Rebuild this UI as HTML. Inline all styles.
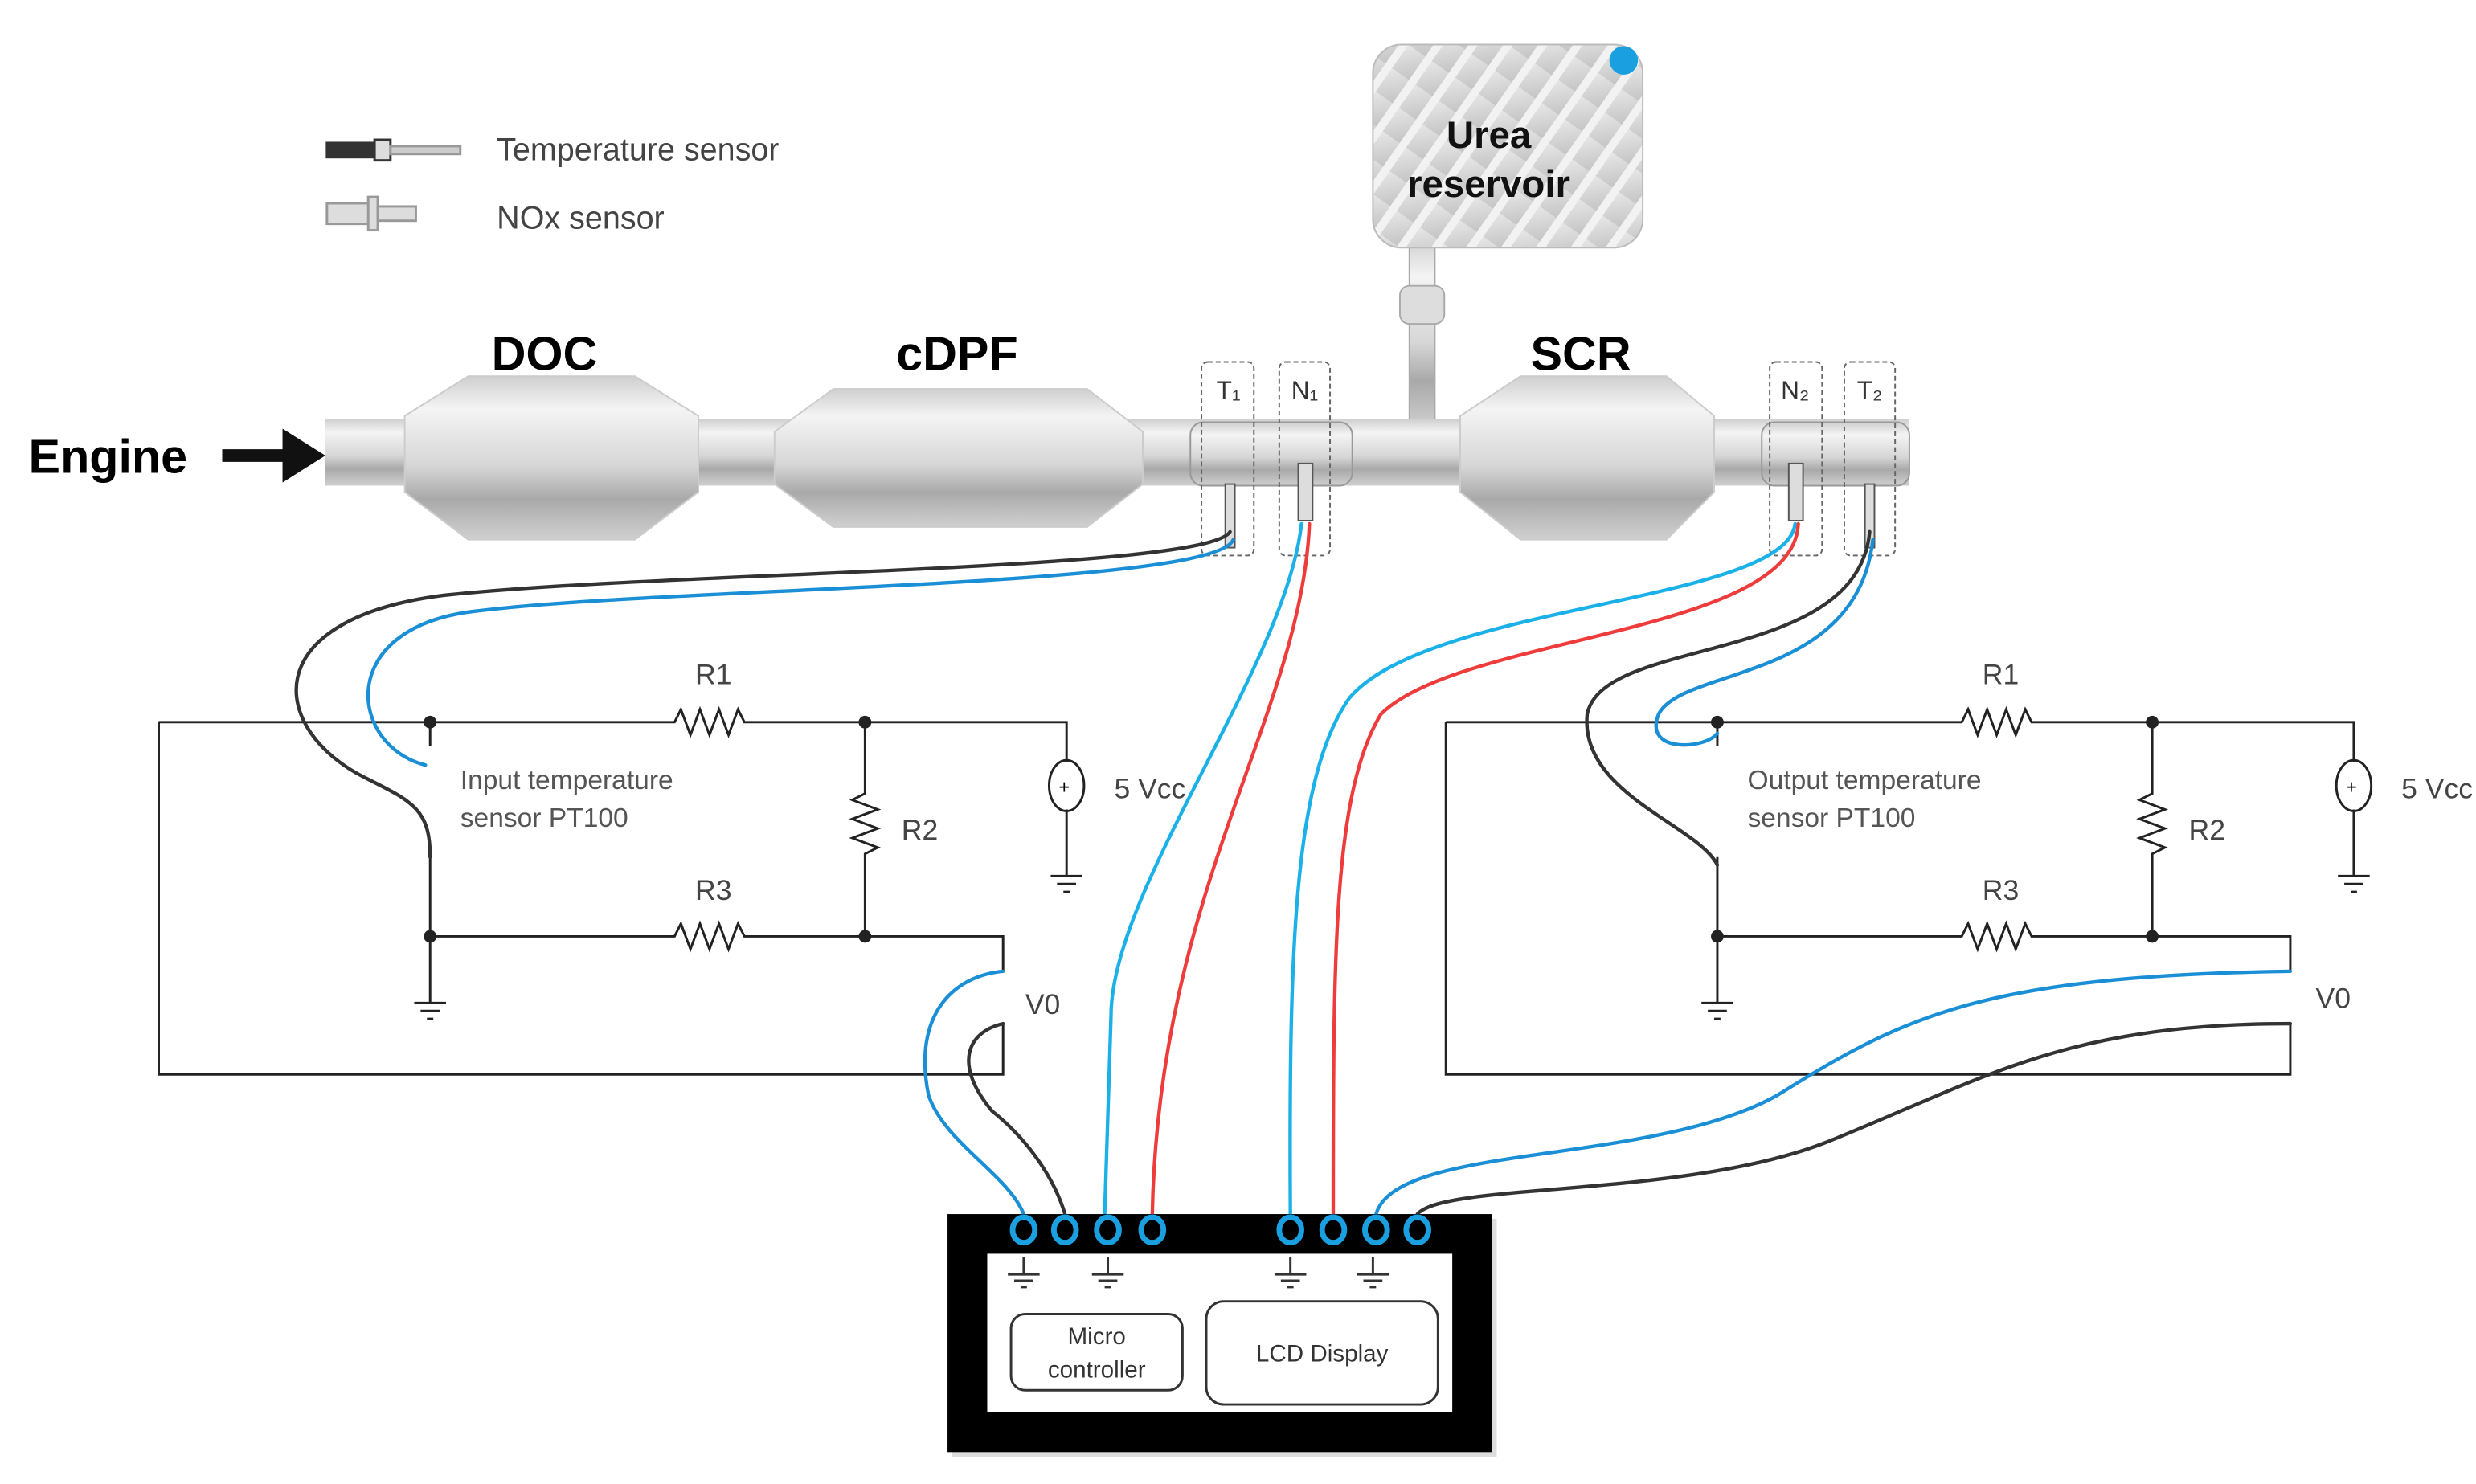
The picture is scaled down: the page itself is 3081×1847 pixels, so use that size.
<!DOCTYPE html>
<html><head><meta charset="utf-8"><style>html,body{margin:0;padding:0;background:#fff}svg{display:block}</style></head>
<body>
<svg width="3081" height="1847" viewBox="0 0 1560 935" xmlns="http://www.w3.org/2000/svg" font-family="Liberation Sans, sans-serif">
<defs>
<linearGradient id="m" x1="0" y1="0" x2="0" y2="1">
<stop offset="0" stop-color="#cfcfcf"/><stop offset="0.2" stop-color="#f4f4f4"/><stop offset="0.55" stop-color="#d6d6d6"/><stop offset="0.75" stop-color="#a9a9a9"/><stop offset="1" stop-color="#d0d0d0"/></linearGradient>
<linearGradient id="r" x1="0" y1="0" x2="1" y2="1"><stop offset="0" stop-color="#ececec"/><stop offset="1" stop-color="#c4c4c4"/></linearGradient>
<pattern id="h" width="18" height="18" patternUnits="userSpaceOnUse" patternTransform="rotate(35)"><rect width="18" height="18" fill="url(#r)"/><rect width="5" height="18" fill="#f2f2f2"/></pattern>
</defs>
<g fill="none" stroke="#333" stroke-width="1.5">
<rect x="206" y="90" width="30" height="9" fill="#333"/><rect x="236" y="88" width="10" height="13" fill="#ddd"/><rect x="246" y="92" width="44" height="5" fill="#ccc" stroke="#999"/>
<rect x="206" y="128" width="28" height="13" fill="#ddd" stroke="#999"/><rect x="232" y="124" width="6" height="21" fill="#ddd" stroke="#999"/><rect x="238" y="130" width="24" height="9" fill="#ddd" stroke="#999"/>
</g>
<text x="313" y="101" font-size="20" fill="#444">Temperature sensor</text>
<text x="313" y="144" font-size="20" fill="#444">NOx sensor</text>
<rect x="888" y="150" width="16" height="120" fill="url(#m)" stroke="#aaa"/>
<rect x="882" y="180" width="28" height="24" rx="6" fill="#ddd" stroke="#aaa"/>
<rect x="865" y="28" width="170" height="128" rx="18" fill="url(#h)" stroke="#bbb"/>
<circle cx="1023" cy="38" r="9" fill="#1aa0e0"/>
<text x="938" y="93" font-size="24" font-weight="bold" text-anchor="middle" fill="#111">Urea</text>
<text x="938" y="124" font-size="24" font-weight="bold" text-anchor="middle" fill="#111">reservoir</text>
<rect x="205" y="264" width="998" height="42" fill="url(#m)"/>
<path d="M255 262 L295 237 H400 L440 262 V310 L400 340 H295 L255 310Z" fill="url(#m)" stroke="#ccc"/>
<path d="M488 272 L525 245 H685 L720 272 V305 L685 332 H525 L488 305Z" fill="url(#m)" stroke="#ccc"/>
<path d="M920 262 L958 237 H1050 L1080 262 V310 L1050 340 H958 L920 310Z" fill="url(#m)" stroke="#ccc"/>
<rect x="750" y="266" width="102" height="40" rx="8" fill="url(#m)" stroke="#999"/>
<rect x="1110" y="266" width="93" height="40" rx="8" fill="url(#m)" stroke="#999"/>
<text x="343" y="233" font-size="30" font-weight="bold" text-anchor="middle">DOC</text>
<text x="603" y="233" font-size="30" font-weight="bold" text-anchor="middle">cDPF</text>
<text x="996" y="233" font-size="30" font-weight="bold" text-anchor="middle">SCR</text>
<text x="18" y="298" font-size="30" font-weight="bold">Engine</text>
<path d="M140 283 H178 V270 L205 287 L178 304 V291 H140Z" fill="#111"/>
<g fill="none" stroke="#666" stroke-dasharray="3,2" stroke-width="1">
<rect x="757" y="228" width="33" height="122" rx="4"/><rect x="806" y="228" width="32" height="122" rx="4"/>
<rect x="1115" y="228" width="33" height="122" rx="4"/><rect x="1162" y="228" width="32" height="122" rx="4"/></g>
<g font-size="16" fill="#333" text-anchor="middle"><text x="774" y="251">T₁</text><text x="822" y="251">N₁</text><text x="1131" y="251">N₂</text><text x="1178" y="251">T₂</text></g>
<g fill="#ddd" stroke="#555" stroke-width="1">
<rect x="772" y="305" width="6" height="40"/><rect x="818" y="292" width="9" height="36"/><rect x="1127" y="292" width="9" height="36"/><rect x="1175" y="305" width="6" height="40"/></g>
<g fill="none" stroke="#222" stroke-width="1.5">
<path d="M100 455 H425 l4 -8 6 16 6 -16 6 16 6 -16 6 16 6 -16 4 8 H672 V480"/>
<path d="M672 510 V552 M662 552 H682 M666 557 H678 M670 562 H674"/>
<ellipse cx="672" cy="495" rx="11" ry="16"/>
<path d="M545 455 V500 l-8 4 16 6 -16 6 16 6 -16 6 16 6 -8 4 V590"/>
<path d="M271 455 V470 M271 540 V632 M261 632 H281 M265 637 H277 M269 642 H273"/>
<path d="M271 590 H425 l4 -8 6 16 6 -16 6 16 6 -16 6 16 6 -16 4 8 H632 V612 M632 645 V677 H100 V455"/>
</g>
<g fill="#222"><circle cx="271" cy="455" r="4"/><circle cx="545" cy="455" r="4"/><circle cx="271" cy="590" r="4"/><circle cx="545" cy="590" r="4"/></g>
<text x="667" y="500" font-size="12">+</text>
<g font-size="18" fill="#444"><text x="438" y="431">R1</text><text x="568" y="529">R2</text><text x="438" y="567">R3</text><text x="702" y="503">5 Vcc</text><text x="646" y="639">V0</text>
<text x="290" y="497" font-size="17" fill="#555">Input temperature</text><text x="290" y="521" font-size="17" fill="#555">sensor PT100</text></g>
<g transform="translate(811,0)">
<g fill="none" stroke="#222" stroke-width="1.5">
<path d="M100 455 H425 l4 -8 6 16 6 -16 6 16 6 -16 6 16 6 -16 4 8 H672 V480"/>
<path d="M672 510 V552 M662 552 H682 M666 557 H678 M670 562 H674"/>
<ellipse cx="672" cy="495" rx="11" ry="16"/>
<path d="M545 455 V500 l-8 4 16 6 -16 6 16 6 -16 6 16 6 -8 4 V590"/>
<path d="M271 455 V470 M271 540 V632 M261 632 H281 M265 637 H277 M269 642 H273"/>
<path d="M271 590 H425 l4 -8 6 16 6 -16 6 16 6 -16 6 16 6 -16 4 8 H632 V612 M632 645 V677 H100 V455"/>
</g>
<g fill="#222"><circle cx="271" cy="455" r="4"/><circle cx="545" cy="455" r="4"/><circle cx="271" cy="590" r="4"/><circle cx="545" cy="590" r="4"/></g>
<text x="667" y="500" font-size="12">+</text>
<g font-size="18" fill="#444"><text x="438" y="431">R1</text><text x="568" y="529">R2</text><text x="438" y="567">R3</text><text x="702" y="503">5 Vcc</text><text x="648" y="635">V0</text>
<text x="290" y="497" font-size="17" fill="#555">Output temperature</text><text x="290" y="521" font-size="17" fill="#555">sensor PT100</text></g>
</g>
<g fill="none" stroke-width="2.2" stroke-linecap="round">
<path d="M775 335 C760 360 420 360 280 375 C160 390 170 460 230 490 C260 505 271 510 271 540" stroke="#333"/>
<path d="M777 340 C765 370 420 370 300 385 C210 395 220 470 268 482" stroke="#1a8fd6"/>
<path d="M820 330 C810 420 700 560 700 640 L696 765" stroke="#1ab0e8"/>
<path d="M825 330 C820 450 730 560 726 765" stroke="#ee3b3b"/>
<path d="M632 612 C600 615 575 640 585 690 C595 720 635 740 645 765" stroke="#1a8fd6"/>
<path d="M632 645 C610 650 600 670 625 700 C650 720 665 745 671 765" stroke="#333"/>
<path d="M1131 330 C1125 380 900 380 850 440 C815 490 812 600 813 765" stroke="#1ab0e8"/>
<path d="M1133 330 C1130 400 920 400 870 450 C840 500 840 600 840 765" stroke="#ee3b3b"/>
<path d="M1178 335 C1170 420 1010 400 1000 450 C995 500 1070 520 1082 545" stroke="#333"/>
<path d="M1180 340 C1170 430 1060 420 1045 450 C1035 475 1075 472 1082 462" stroke="#1a8fd6"/>
<path d="M1443 612 C1250 615 1200 640 1120 690 C1040 735 880 720 867 765" stroke="#1a8fd6"/>
<path d="M1443 645 C1300 645 1250 680 1150 720 C1060 755 910 745 893 765" stroke="#333"/>
</g>
<rect x="600" y="768" width="343" height="150" fill="#bbb" opacity="0.5"/>
<rect x="597" y="765" width="343" height="150" fill="#000"/>
<rect x="622" y="790" width="293" height="100" fill="#fff"/>
<g fill="none" stroke="#1aa0e0" stroke-width="3.5">
<ellipse cx="645" cy="775" rx="7" ry="8"/><ellipse cx="671" cy="775" rx="7" ry="8"/><ellipse cx="698" cy="775" rx="7" ry="8"/><ellipse cx="726" cy="775" rx="7" ry="8"/>
<ellipse cx="813" cy="775" rx="7" ry="8"/><ellipse cx="840" cy="775" rx="7" ry="8"/><ellipse cx="867" cy="775" rx="7" ry="8"/><ellipse cx="893" cy="775" rx="7" ry="8"/></g>
<g stroke="#333" stroke-width="1.5">
<path d="M645 792 V803 M635 803 H655 M639 807 H651 M643 811 H647"/>
<path d="M698 792 V803 M688 803 H708 M692 807 H704 M696 811 H700"/>
<path d="M813 792 V803 M803 803 H823 M807 807 H819 M811 811 H815"/>
<path d="M865 792 V803 M855 803 H875 M859 807 H871 M863 811 H867"/></g>
<rect x="637" y="828" width="108" height="48" rx="9" fill="none" stroke="#333" stroke-width="1.5"/>
<rect x="760" y="820" width="146" height="65" rx="11" fill="none" stroke="#333" stroke-width="1.5"/>
<g font-size="15" fill="#333" text-anchor="middle"><text x="691" y="847">Micro</text><text x="691" y="868">controller</text><text x="833" y="858">LCD Display</text></g>
</svg>
</body></html>
